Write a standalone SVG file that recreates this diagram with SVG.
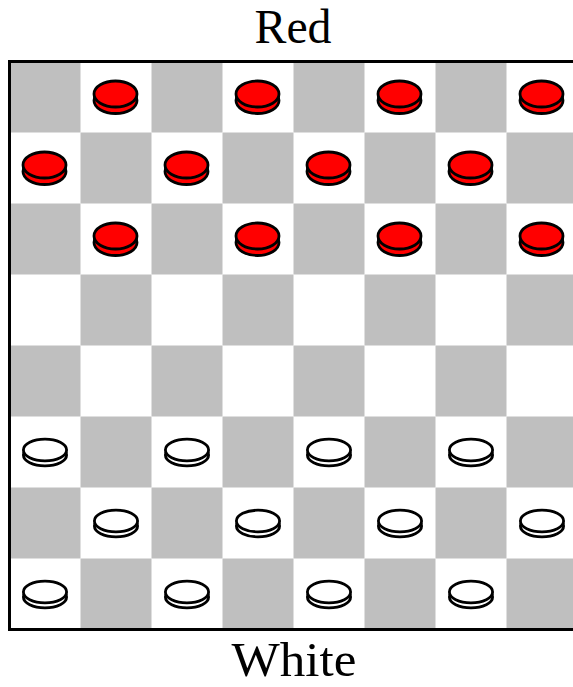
<svg xmlns="http://www.w3.org/2000/svg" xmlns:xlink="http://www.w3.org/1999/xlink" width="573" height="687" viewBox="0 0 573 687">
<style>
.dark{fill:#bfbfbf}
.border{fill:none;stroke:#000;stroke-width:3}
.label{font-family:"Liberation Serif","DejaVu Serif",serif;font-size:48px;fill:#000;text-anchor:middle}
.pc{stroke:#000;stroke-width:2.8}
.red{fill:#ff0000}
.white{fill:#ffffff}
</style>
<defs>
<g id="redPiece">
<ellipse class="pc red" cx="-0.5" cy="3.5" rx="21.5" ry="13"/>
<ellipse class="pc red" cx="-0.5" cy="-3" rx="21.5" ry="13"/>
</g>
<g id="whitePiece">
<ellipse class="pc white" cx="0" cy="3" rx="21.6" ry="10.8"/>
<ellipse class="pc white" cx="0" cy="-2" rx="21.6" ry="10.8"/>
</g>
</defs>
<rect x="0" y="0" width="573" height="687" fill="#fff"/>
<g id="board">
<rect class="dark" x="9.5" y="61.5" width="71" height="71"/>
<rect class="dark" x="151.5" y="61.5" width="71" height="71"/>
<rect class="dark" x="293.5" y="61.5" width="71" height="71"/>
<rect class="dark" x="435.5" y="61.5" width="71" height="71"/>
<rect class="dark" x="80.5" y="132.5" width="71" height="71"/>
<rect class="dark" x="222.5" y="132.5" width="71" height="71"/>
<rect class="dark" x="364.5" y="132.5" width="71" height="71"/>
<rect class="dark" x="506.5" y="132.5" width="71" height="71"/>
<rect class="dark" x="9.5" y="203.5" width="71" height="71"/>
<rect class="dark" x="151.5" y="203.5" width="71" height="71"/>
<rect class="dark" x="293.5" y="203.5" width="71" height="71"/>
<rect class="dark" x="435.5" y="203.5" width="71" height="71"/>
<rect class="dark" x="80.5" y="274.5" width="71" height="71"/>
<rect class="dark" x="222.5" y="274.5" width="71" height="71"/>
<rect class="dark" x="364.5" y="274.5" width="71" height="71"/>
<rect class="dark" x="506.5" y="274.5" width="71" height="71"/>
<rect class="dark" x="9.5" y="345.5" width="71" height="71"/>
<rect class="dark" x="151.5" y="345.5" width="71" height="71"/>
<rect class="dark" x="293.5" y="345.5" width="71" height="71"/>
<rect class="dark" x="435.5" y="345.5" width="71" height="71"/>
<rect class="dark" x="80.5" y="416.5" width="71" height="71"/>
<rect class="dark" x="222.5" y="416.5" width="71" height="71"/>
<rect class="dark" x="364.5" y="416.5" width="71" height="71"/>
<rect class="dark" x="506.5" y="416.5" width="71" height="71"/>
<rect class="dark" x="9.5" y="487.5" width="71" height="71"/>
<rect class="dark" x="151.5" y="487.5" width="71" height="71"/>
<rect class="dark" x="293.5" y="487.5" width="71" height="71"/>
<rect class="dark" x="435.5" y="487.5" width="71" height="71"/>
<rect class="dark" x="80.5" y="558.5" width="71" height="71"/>
<rect class="dark" x="222.5" y="558.5" width="71" height="71"/>
<rect class="dark" x="364.5" y="558.5" width="71" height="71"/>
<rect class="dark" x="506.5" y="558.5" width="71" height="71"/>
<rect class="border" x="9.5" y="61.5" width="568" height="568"/>
</g>
<g id="red-pieces">
<g id="r1"><use xlink:href="#redPiece" href="#redPiece" x="116" y="97"/></g>
<g id="r2"><use xlink:href="#redPiece" href="#redPiece" x="258" y="97"/></g>
<g id="r3"><use xlink:href="#redPiece" href="#redPiece" x="400" y="97"/></g>
<g id="r4"><use xlink:href="#redPiece" href="#redPiece" x="542" y="97"/></g>
<g id="r5"><use xlink:href="#redPiece" href="#redPiece" x="45" y="168"/></g>
<g id="r6"><use xlink:href="#redPiece" href="#redPiece" x="187" y="168"/></g>
<g id="r7"><use xlink:href="#redPiece" href="#redPiece" x="329" y="168"/></g>
<g id="r8"><use xlink:href="#redPiece" href="#redPiece" x="471" y="168"/></g>
<g id="r9"><use xlink:href="#redPiece" href="#redPiece" x="116" y="239"/></g>
<g id="r10"><use xlink:href="#redPiece" href="#redPiece" x="258" y="239"/></g>
<g id="r11"><use xlink:href="#redPiece" href="#redPiece" x="400" y="239"/></g>
<g id="r12"><use xlink:href="#redPiece" href="#redPiece" x="542" y="239"/></g>
</g>
<g id="white-pieces">
<g id="w1"><use xlink:href="#whitePiece" href="#whitePiece" x="45" y="452"/></g>
<g id="w2"><use xlink:href="#whitePiece" href="#whitePiece" x="187" y="452"/></g>
<g id="w3"><use xlink:href="#whitePiece" href="#whitePiece" x="329" y="452"/></g>
<g id="w4"><use xlink:href="#whitePiece" href="#whitePiece" x="471" y="452"/></g>
<g id="w5"><use xlink:href="#whitePiece" href="#whitePiece" x="116" y="523"/></g>
<g id="w6"><use xlink:href="#whitePiece" href="#whitePiece" x="258" y="523"/></g>
<g id="w7"><use xlink:href="#whitePiece" href="#whitePiece" x="400" y="523"/></g>
<g id="w8"><use xlink:href="#whitePiece" href="#whitePiece" x="542" y="523"/></g>
<g id="w9"><use xlink:href="#whitePiece" href="#whitePiece" x="45" y="594"/></g>
<g id="w10"><use xlink:href="#whitePiece" href="#whitePiece" x="187" y="594"/></g>
<g id="w11"><use xlink:href="#whitePiece" href="#whitePiece" x="329" y="594"/></g>
<g id="w12"><use xlink:href="#whitePiece" href="#whitePiece" x="471" y="594"/></g>
</g>
<g id="label-red"><text class="label" x="293" y="43" textLength="77" lengthAdjust="spacingAndGlyphs">Red</text></g>
<g id="label-white"><text class="label" x="294" y="676" font-size="46" textLength="125" lengthAdjust="spacingAndGlyphs">White</text></g>
</svg>
